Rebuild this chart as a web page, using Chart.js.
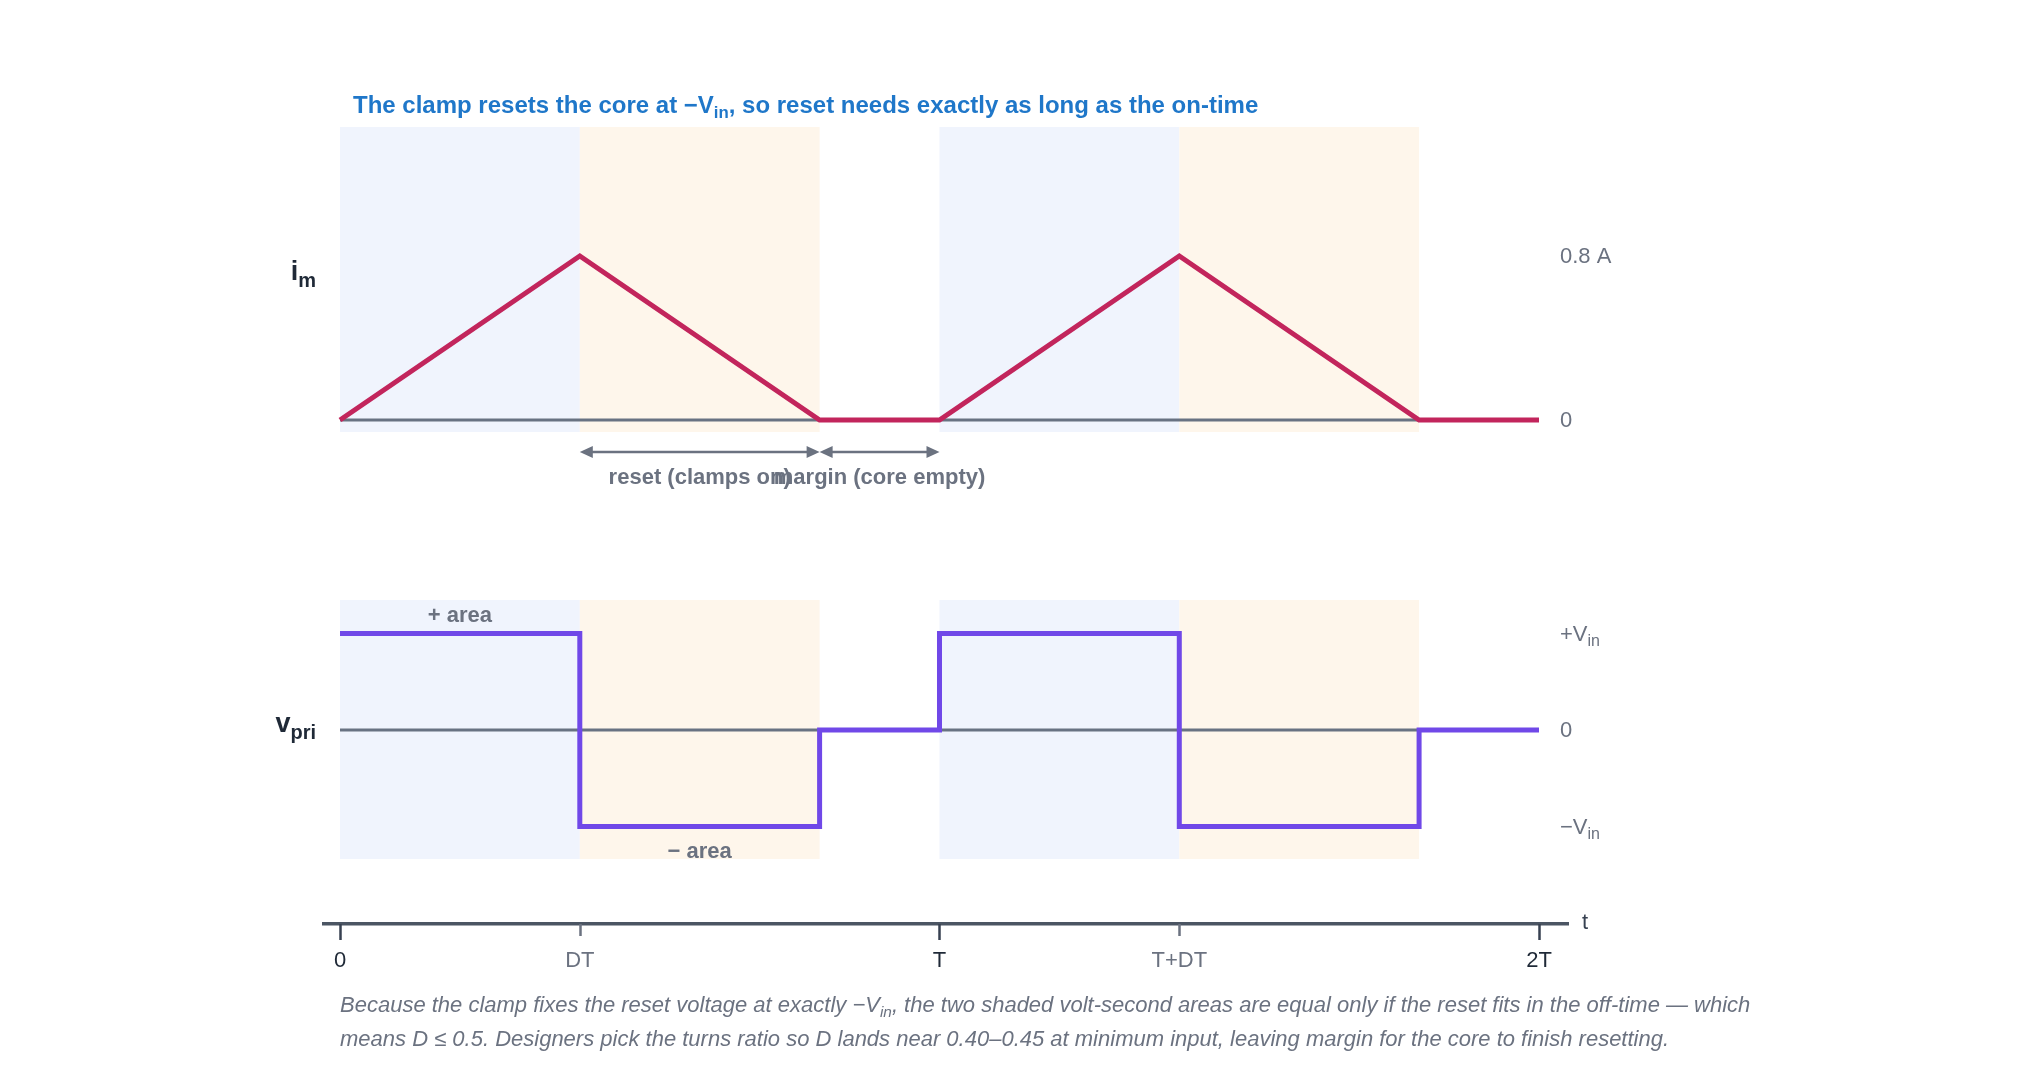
<!DOCTYPE html>
<html>
<head>
<meta charset="utf-8">
<script src="https://cdn.jsdelivr.net/npm/chart.js@4.4.1/dist/chart.umd.min.js"></script>
<style>
  html, body { margin:0; padding:0; background:#fff; }
  #wrap { position:relative; width:2040px; height:1088px; font-family:"Liberation Sans", Arial, sans-serif; }
  #chart { position:absolute; left:0; top:0; }
  .title { position:absolute; left:353px; top:91px; font-size:24px; font-weight:bold; color:#1f77c9; white-space:nowrap; line-height:28px; }
  .title sub, .caption sub { font-size:70%; vertical-align:-5px; line-height:0; }
  .caption { position:absolute; left:340px; top:988px; font-size:22px; font-style:italic; color:#6b7280; line-height:34px; white-space:nowrap; }
</style>
</head>
<body>
<div id="wrap">
  <canvas id="chart" width="2040" height="1088"></canvas>
  <div class="title">The clamp resets the core at −V<sub>in</sub>, so reset needs exactly as long as the on-time</div>
  <div class="caption">Because the clamp fixes the reset voltage at exactly −V<sub>in</sub>, the two shaded volt-second areas are equal only if the reset fits in the off-time — which<br>means D ≤ 0.5. Designers pick the turns ratio so D lands near 0.40–0.45 at minimum input, leaving margin for the core to finish resetting.</div>
</div>
<script>
// time in units of T (D = 0.4, reset ends at 0.8T)
const tTicks = [0, 0.4, 1, 1.4, 2];
const tLabels = ['0', 'DT', 'T', 'T+DT', '2T'];
const tMajor = [0, 1, 2];

const imTime  = [0, 0.4, 0.8, 1, 1.4, 1.8, 2];
const imValue = [0, 0.8, 0,   0, 0.8, 0,   0];

const vTime  = [0, 0.4, 0.4, 0.8, 0.8, 1, 1, 1.4, 1.4, 1.8, 1.8, 2];
const vValue = [1, 1,  -1,  -1,   0,   0, 1, 1,  -1,  -1,   0,   0];

const onTimes    = [[0, 0.4], [1, 1.4]];
const resetTimes = [[0.4, 0.8], [1.4, 1.8]];

const imTickValues = [0.8, 0];
const imTickLabels = [['0.8 A', ''], ['0', '']];
const vTickValues  = [1, 0, -1];
const vTickLabels  = [['+V', 'in'], ['0', ''], ['−V', 'in']];

const spanStarts = [0.4, 0.8];
const spanEnds   = [0.8, 1];
const spanLabels = ['reset (clamps on)', 'margin (core empty)'];

const areaTimes  = [0.2, 0.6];
const areaLevels = [1, -1];
const areaLabels = ['+ area', '− area'];

const pts = (xs, ys) => xs.map((x, i) => ({ x, y: ys[i] }));

const FONT = '"Liberation Sans", Arial, sans-serif';
const GRAY = '#6b7280';
const DARK = '#1f2937';

function drawSub(ctx, main, sub, x, y, size, subSize, color, bold, align){
  ctx.save();
  ctx.fillStyle = color;
  ctx.textBaseline = 'middle';
  const w = bold ? 'bold ' : '';
  ctx.font = w + size + 'px ' + FONT;
  const mw = ctx.measureText(main).width;
  ctx.font = w + subSize + 'px ' + FONT;
  const sw = sub ? ctx.measureText(sub).width : 0;
  let x0 = x;
  if (align === 'right') x0 = x - mw - sw;
  ctx.font = w + size + 'px ' + FONT;
  ctx.textAlign = 'left';
  ctx.fillText(main, x0, y);
  if (sub){
    ctx.font = w + subSize + 'px ' + FONT;
    ctx.fillText(sub, x0 + mw, y + size * 0.3);
  }
  ctx.restore();
}

function arrowHead(ctx, x, y, dir){
  ctx.beginPath();
  ctx.moveTo(x, y);
  ctx.lineTo(x - dir * 13, y - 6);
  ctx.lineTo(x - dir * 13, y + 6);
  ctx.closePath();
  ctx.fill();
}

const decor = {
  id: 'decor',
  beforeDatasetsDraw(chart){
    const ctx = chart.ctx, x = chart.scales.x;
    const top = chart.chartArea.top;
    const bands = [[top, 432], [600, 859]];
    ctx.save();
    bands.forEach(([y0, y1]) => {
      onTimes.forEach(([a, b]) => {
        ctx.fillStyle = '#f0f4fd';
        ctx.fillRect(x.getPixelForValue(a), y0, x.getPixelForValue(b) - x.getPixelForValue(a), y1 - y0);
      });
      resetTimes.forEach(([a, b]) => {
        ctx.fillStyle = '#fef6eb';
        ctx.fillRect(x.getPixelForValue(a), y0, x.getPixelForValue(b) - x.getPixelForValue(a), y1 - y0);
      });
    });
    ctx.restore();
  },
  afterDraw(chart){
    const ctx = chart.ctx;
    const x = chart.scales.x, yI = chart.scales.yI, yV = chart.scales.yV;
    const labelX = 1560;

    // right-side level labels
    imTickValues.forEach((v, i) => drawSub(ctx, imTickLabels[i][0], imTickLabels[i][1], labelX, yI.getPixelForValue(v) + 1, 22, 16, GRAY, false));
    vTickValues.forEach((v, i) => drawSub(ctx, vTickLabels[i][0], vTickLabels[i][1], labelX, yV.getPixelForValue(v) + 1, 22, 16, GRAY, false));

    // panel names
    drawSub(ctx, 'i', 'm', 316, yI.getPixelForValue(0.8) + 17, 27, 20, DARK, true, 'right');
    drawSub(ctx, 'v', 'pri', 316, yV.getPixelForValue(0) - 5, 27, 20, DARK, true, 'right');

    // span arrows under the current trace
    const ay = yI.getPixelForValue(0) + 32;
    ctx.save();
    ctx.strokeStyle = GRAY; ctx.fillStyle = GRAY; ctx.lineWidth = 2.5;
    spanStarts.forEach((s, i) => {
      const xa = x.getPixelForValue(s), xb = x.getPixelForValue(spanEnds[i]);
      ctx.beginPath(); ctx.moveTo(xa + 4, ay); ctx.lineTo(xb - 4, ay); ctx.stroke();
      arrowHead(ctx, xa, ay, -1);
      arrowHead(ctx, xb, ay, 1);
      ctx.font = 'bold 22px ' + FONT;
      ctx.textAlign = 'center'; ctx.textBaseline = 'middle';
      ctx.fillText(spanLabels[i], (xa + xb) / 2, ay + 26);
    });
    // area labels
    areaTimes.forEach((t, i) => {
      const py = yV.getPixelForValue(areaLevels[i]) + (areaLevels[i] > 0 ? -18 : 25);
      ctx.fillText(areaLabels[i], x.getPixelForValue(t), py);
    });
    ctx.restore();

    // time-axis tick marks and axis title
    const by = chart.chartArea.bottom;
    ctx.save();
    tTicks.forEach(v => {
      const major = tMajor.includes(v);
      const px = Math.round(x.getPixelForValue(v)) + 0.5;
      ctx.strokeStyle = major ? '#374151' : GRAY;
      ctx.lineWidth = 2.5;
      ctx.beginPath(); ctx.moveTo(px, by); ctx.lineTo(px, by + (major ? 16 : 12)); ctx.stroke();
    });
    ctx.fillStyle = '#374151';
    ctx.font = '22px ' + FONT;
    ctx.textAlign = 'left'; ctx.textBaseline = 'middle';
    ctx.fillText('t', chart.chartArea.right + 14, by - 1);
    ctx.restore();
  }
};

new Chart(document.getElementById('chart'), {
  type: 'line',
  data: {
    datasets: [
      { data: pts(imTime, imValue), yAxisID: 'yI', borderColor: '#c2255c', borderWidth: 5, pointRadius: 0, borderJoinStyle: 'miter', fill: false },
      { data: pts(vTime, vValue), yAxisID: 'yV', borderColor: '#7048e8', borderWidth: 5, pointRadius: 0, borderJoinStyle: 'miter', fill: false },
      { data: pts([0, 2], [0, 0]), yAxisID: 'yI', borderColor: '#687282', borderWidth: 3, pointRadius: 0, fill: false },
      { data: pts([0, 2], [0, 0]), yAxisID: 'yV', borderColor: '#687282', borderWidth: 3, pointRadius: 0, fill: false }
    ]
  },
  options: {
    responsive: false,
    animation: false,
    devicePixelRatio: 1,
    layout: { padding: { left: 324, right: 472, top: 127, bottom: 104 } },
    plugins: { legend: { display: false }, tooltip: { enabled: false } },
    scales: {
      x: {
        type: 'linear',
        min: -0.0267, max: 2.0484,
        afterFit: (s) => { s.height = 60; },
        afterBuildTicks: (s) => { s.ticks = tTicks.map(v => ({ value: v })); },
        grid: { display: false },
        border: { display: true, color: '#4b5563', width: 3.5 },
        ticks: {
          autoSkip: false, maxRotation: 0, padding: 16,
          font: { family: FONT, size: 22 },
          color: (c) => tMajor.includes(c.tick && c.tick.value) ? DARK : GRAY,
          callback: (v) => tLabels[tTicks.indexOf(v)]
        }
      },
      yI: { type: 'linear', display: false, min: -2.4585, max: 1.4293 },
      yV: { type: 'linear', display: false, min: -2.0104, max: 6.2487 }
    }
  },
  plugins: [decor]
});
</script>
</body>
</html>
